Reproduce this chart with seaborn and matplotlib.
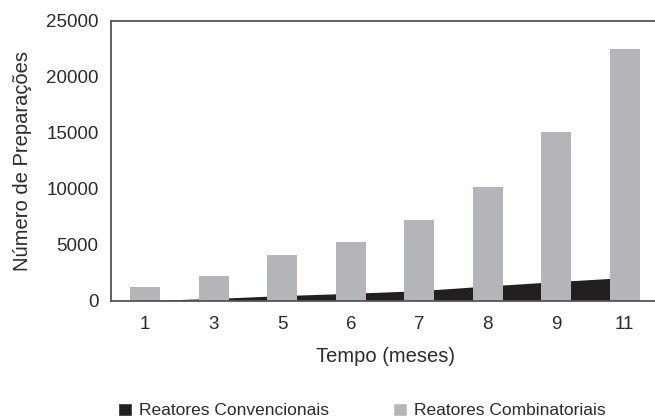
import numpy as np
import pandas as pd
import matplotlib
matplotlib.use('Agg')
import matplotlib.pyplot as plt
import seaborn as sns
from matplotlib.patches import Patch

# data
meses = ['1', '3', '5', '6', '7', '8', '9', '11']
combinatoriais = [1200, 2200, 4100, 5200, 7200, 10100, 15100, 22500]
convencionais = [0, 180, 440, 640, 880, 1300, 1690, 2050]

cor_cinza = '#b4b5b9'
cor_preto = '#231f20'
cor_texto = '#2b2b2b'

sns.set_style('white')
plt.rcParams['font.family'] = ['Liberation Sans', 'DejaVu Sans']

df = pd.DataFrame({'mes': meses, 'prep': combinatoriais})

fig = plt.figure(figsize=(6.55, 4.19), dpi=100)
ax = fig.add_axes([0.1695, 0.2828, 0.8366, 0.6678])

# conventional reactors as an area behind the bars
pos = np.arange(len(meses))
ax.fill_between(pos, 0, convencionais, color=cor_preto, linewidth=0, zorder=1)

sns.barplot(data=df, x='mes', y='prep', color=cor_cinza, width=0.44,
            saturation=1, ax=ax, zorder=2, linewidth=0)

ax.set_xlim(-0.5, len(meses) - 0.5)
ax.set_ylim(0, 25000)
ax.set_yticks(range(0, 25001, 5000))

# ticks between categories, labels at the centre
ax.set_xticks(np.arange(-0.5, len(meses), 1))
ax.set_xticklabels([])
ax.set_xticks(pos, minor=True)
ax.set_xticklabels(meses, minor=True)
ax.tick_params(axis='x', which='minor', length=0, pad=11,
               labelsize=13.5, labelcolor=cor_texto)
ax.tick_params(axis='x', which='major', length=5, width=1.2,
               color='#555555', direction='out')
ax.tick_params(axis='y', length=6, width=1.2, color='#555555',
               direction='out', labelsize=13.5, labelcolor=cor_texto, pad=3)

for lado in ['left', 'bottom', 'top']:
    ax.spines[lado].set_color('#555555')
    ax.spines[lado].set_linewidth(1.3)
ax.spines['right'].set_visible(False)

ax.set_xlabel('Tempo (meses)', fontsize=14.5, color=cor_texto, labelpad=10)
ax.set_ylabel('Número de Preparações', fontsize=14.5, color=cor_texto,
              labelpad=10)

handles = [Patch(facecolor=cor_preto, label='Reatores Convencionais'),
           Patch(facecolor=cor_cinza, label='Reatores Combinatoriais')]
fig.legend(handles=handles, loc='center left', bbox_to_anchor=(0.167, 0.02),
           ncol=2, frameon=False, fontsize=12.5, handlelength=0.8,
           handleheight=0.8, handletextpad=0.4, columnspacing=3.7,
           borderpad=0, labelcolor=cor_texto)

fig.savefig('out.png', dpi=100)
